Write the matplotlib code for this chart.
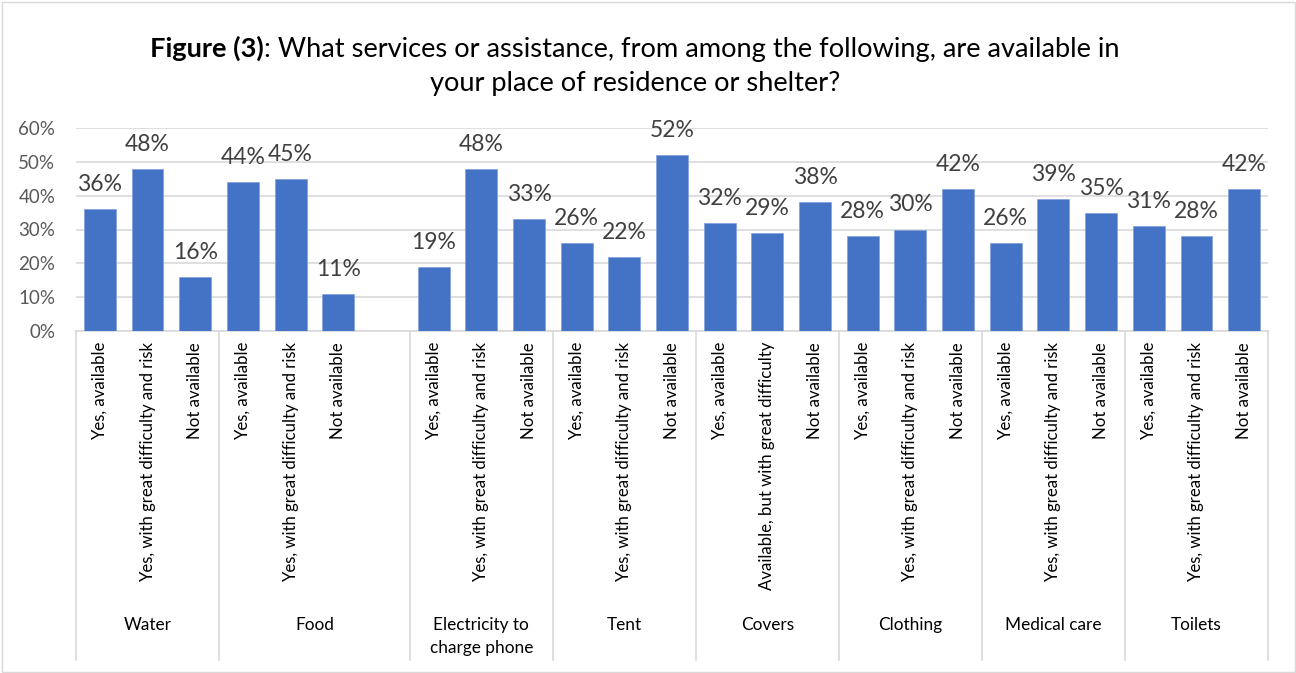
import matplotlib
matplotlib.use("Agg")
import matplotlib.pyplot as plt
import numpy as np
from matplotlib.lines import Line2D
from matplotlib.patches import Rectangle
from matplotlib.ticker import FuncFormatter

plt.rcParams['font.family'] = ['Lato', 'DejaVu Sans']

# Service groups and the answers given for each (percent of respondents)
groups = ["Water", "Food", "Electricity to\ncharge phone", "Tent", "Covers",
          "Clothing", "Medical care", "Toilets"]

answers_std = ["Yes, available", "Yes, with great difficulty and risk", "Not available"]
answers_food = ["Yes, available", "Yes, with great difficulty and risk", "Not available", ""]
answers_covers = ["Yes, available", "Available, but with great difficulty", "Not available"]

water = [36, 48, 16]
food = [44, 45, 11, None]
electricity = [19, 48, 33]
tent = [26, 22, 52]
covers = [32, 29, 38]
clothing = [28, 30, 42]
medical_care = [26, 39, 35]
toilets = [31, 28, 42]

group_values = [water, food, electricity, tent, covers, clothing, medical_care, toilets]
group_answers = [answers_std, answers_food, answers_std, answers_std, answers_covers,
                 answers_std, answers_std, answers_std]

values, labels, group_sizes = [], [], []
for vals, ans in zip(group_values, group_answers):
    values.extend(vals)
    labels.extend(ans)
    group_sizes.append(len(vals))

x = np.arange(len(values))
vals = np.array([np.nan if v is None else v for v in values], dtype=float)
has = ~np.isnan(vals)

W, H = 1296, 673
fig = plt.figure(figsize=(W / 100, H / 100), dpi=100)
fig.patches.append(Rectangle((1.5 / W, 1.5 / H), 1 - 3 / W, 1 - 3 / H,
                             transform=fig.transFigure, fill=False,
                             edgecolor='#D9D9D9', lw=1))

ax = fig.add_axes([76 / W, 1 - 331 / H, (1268 - 76) / W, (331 - 128) / H])

bar_color = '#4472C4'
text_color = '#595959'
label_color = '#404040'
grid_color = '#D9D9D9'

ax.bar(x[has], vals[has], width=0.67, color=bar_color, edgecolor='#7FA0DA',
       linewidth=0.5, zorder=3)

ax.set_xlim(-0.5, len(values) - 0.5)
ax.set_ylim(0, 60)
ax.set_yticks(np.arange(0, 61, 10))
ax.yaxis.set_major_formatter(FuncFormatter(lambda v, _: f"{v:.0f}%"))
ax.tick_params(axis='y', length=0, pad=15, labelsize=13.5, labelcolor=text_color)
ax.set_xticks([])
ax.yaxis.grid(True, color=grid_color, lw=1.2)
ax.set_axisbelow(True)
for side in ['left', 'right', 'top']:
    ax.spines[side].set_visible(False)
ax.spines['bottom'].set_color(grid_color)
ax.spines['bottom'].set_linewidth(1.2)

# value labels above the bars
for xi, v in zip(x[has], vals[has]):
    ax.annotate(f"{v:.0f}%", xy=(xi, v), xytext=(0, 13), textcoords='offset points',
                ha='center', va='baseline', fontsize=16.5, color=label_color)

# answer labels, rotated under each bar
for xi, lab in zip(x, labels):
    if lab:
        ax.annotate(lab, xy=(xi, 0), xycoords=('data', 'axes fraction'),
                    xytext=(0, -8), textcoords='offset points', rotation=90,
                    ha='center', va='top', fontsize=12.1, color='black')

# group labels and separators
divider_len = (660 - 331) / (331 - 128)
edges = np.concatenate([[0], np.cumsum(group_sizes)]) - 0.5
for e in edges:
    ax.add_line(Line2D([e, e], [0, -divider_len], color=grid_color, lw=1.2,
                       transform=ax.get_xaxis_transform(), clip_on=False))
for g, lo, hi in zip(groups, edges[:-1], edges[1:]):
    ax.annotate(g, xy=((lo + hi) / 2, 0), xycoords=('data', 'axes fraction'),
                xytext=(0, -206), textcoords='offset points', ha='center', va='top',
                fontsize=12.4, color='black', linespacing=1.55)

# two-line title with bold figure number
title_x = 635 / W
bold_part = "Figure (3)"
rest_part = ": What services or assistance, from among the following, are available in"
fs = 19.6
y1 = 1 - 57 / H
y2 = 1 - 91 / H
t_bold = fig.text(0, y1, bold_part, fontsize=fs, fontweight='bold', ha='right',
                  va='baseline', color='black')
t_rest = fig.text(0, y1, rest_part, fontsize=fs, ha='left', va='baseline', color='black')
renderer = fig.canvas.get_renderer()
wb = t_bold.get_window_extent(renderer).width / W
wr = t_rest.get_window_extent(renderer).width / W
x_join = title_x - (wb + wr) / 2 + wb
t_bold.set_x(x_join)
t_rest.set_x(x_join)
fig.text(title_x, y2, "your place of residence or shelter?", fontsize=fs, ha='center',
         va='baseline', color='black')

fig.savefig("out.png", dpi=100)
